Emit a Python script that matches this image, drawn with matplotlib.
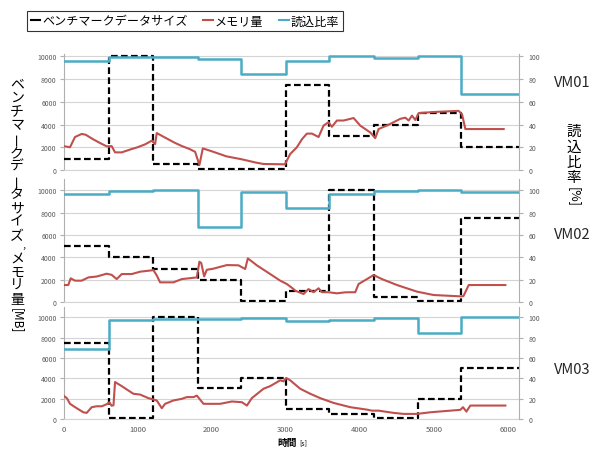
import matplotlib
matplotlib.use('Agg')
import matplotlib.pyplot as plt
from matplotlib.lines import Line2D

plt.rcParams['font.family'] = ['Noto Sans CJK JP', 'DejaVu Sans']

# ---------------- data ----------------
step_times = [0, 620, 1210, 1810, 2400, 3000, 3590, 4190, 4780, 5370]
end_time = 6150

bench1 = [1000, 10000, 500, 100, 100, 7500, 3000, 4000, 5000, 2000]
ratio1 = [96, 99, 99, 97.5, 84, 96, 100, 98.5, 100, 67]
bench2 = [5000, 4000, 3000, 2000, 100, 1000, 10000, 500, 100, 7500]
ratio2 = [97, 99, 100, 67, 98, 84, 96.5, 99, 100, 98]
bench3 = [7500, 100, 10000, 3000, 4000, 1000, 500, 100, 2000, 5000]
ratio3 = [68.5, 97.5, 98, 98.5, 99.5, 96, 97, 99, 84, 100]

mem_t1 = [20, 88, 155, 245, 300, 400, 500, 583, 650, 696, 786, 900, 1000, 1100, 1192, 1237, 1259, 1300,
          1400, 1500, 1600, 1700, 1777, 1835, 1881, 2000, 2200, 2400, 2600, 2700, 2990, 3060, 3151, 3219,
          3286, 3354, 3444, 3511, 3578, 3624, 3691, 3781, 3917, 4007, 4142, 4209, 4254, 4412, 4547, 4615,
          4660, 4705, 4750, 4795, 5000, 5335, 5381, 5426, 5943]
mem_v1 = [2080, 2000, 2900, 3170, 3100, 2700, 2350, 2080, 2100, 1550, 1550, 1800, 2000, 2250, 2580, 2280,
          3250, 3100, 2750, 2400, 2100, 1850, 1600, 440, 1900, 1650, 1200, 950, 650, 530, 500, 1400, 2000,
          2700, 3200, 3200, 2900, 3900, 4200, 3800, 4350, 4350, 4570, 3900, 3300, 2800, 3600, 4050, 4500,
          4600, 4350, 4780, 4400, 5000, 5100, 5200, 4900, 3600, 3600]

mem_t2 = [20, 65, 97, 155, 245, 336, 448, 583, 650, 718, 786, 921, 1034, 1214, 1259, 1304, 1484, 1597,
          1800, 1835, 1860, 1899, 1935, 2024, 2205, 2362, 2453, 2489, 2610, 2791, 2926, 3016, 3106, 3128,
          3241, 3308, 3376, 3444, 3489, 3578, 3691, 3804, 3939, 3984, 4097, 4187, 4300, 4503, 4773, 4997,
          5358, 5400, 5471, 5966]
mem_v2 = [1540, 1540, 2140, 1930, 1930, 2220, 2300, 2550, 2450, 2070, 2520, 2520, 2730, 2870, 2400, 1780,
          1780, 2070, 2220, 3620, 3500, 2310, 2900, 3000, 3320, 3300, 2970, 3920, 3300, 2520, 1930, 1630,
          1180, 1040, 740, 1180, 900, 1250, 900, 900, 800, 890, 900, 1630, 2070, 2430, 2070, 1540, 950,
          650, 530, 550, 1540, 1540]

mem_t3 = [7, 45, 88, 178, 268, 313, 381, 448, 516, 583, 619, 650, 675, 696, 786, 943, 1034, 1146, 1259,
          1327, 1372, 1484, 1597, 1665, 1755, 1800, 1890, 2115, 2273, 2408, 2476, 2543, 2700, 2791, 2926,
          2971, 3007, 3061, 3196, 3331, 3466, 3646, 3872, 4097, 4165, 4254, 4457, 4592, 4773, 4953, 5223,
          5358, 5394, 5440, 5493, 5966]
mem_v3 = [2250, 2050, 1490, 1060, 660, 600, 1160, 1250, 1250, 1450, 1650, 1300, 1350, 3630, 3230, 2480,
          2400, 2050, 1820, 1060, 1490, 1820, 1980, 2150, 2150, 2300, 1490, 1490, 1720, 1650, 1320, 2050,
          2970, 3230, 3800, 3700, 4030, 3800, 2970, 2480, 2050, 1580, 1160, 920, 820, 820, 600, 500, 500,
          660, 820, 900, 1160, 730, 1320, 1320]

vm_names = ['VM01', 'VM02', 'VM03']
left_ticks = [0, 2000, 4000, 6000, 8000, 10000]
right_ticks = [0, 20, 40, 60, 80, 100]
x_ticks = [0, 1000, 2000, 3000, 4000, 5000, 6000]
legend_labels = ['ベンチマークデータサイズ', 'メモリ量', '読込比率']

# ---------------- style ----------------
C_BLUE = '#4bacc6'
C_RED = '#c0504d'
C_GRID = '#d4d4d4'
C_SPINE = '#b0b0b0'
C_TICKLBL = '#595959'

W, H = 592, 452
fig = plt.figure(figsize=(W / 100, H / 100), dpi=100)


def rect(l, t, r, b):
    return [l / W, 1 - b / H, (r - l) / W, (b - t) / H]


panels = [(55, 171, 10200), (180, 303.3, 11000), (308, 420, 11000)]
benches = [bench1, bench2, bench3]
ratios = [ratio1, ratio2, ratio3]
mems = [(mem_t1, mem_v1), (mem_t2, mem_v2), (mem_t3, mem_v3)]
vm_y = [83, 235, 370]

st = step_times + [end_time]
for i, (top, bot, ytop) in enumerate(panels):
    ax = fig.add_axes(rect(63.5, top, 519, bot))
    ax.set_xlim(0, end_time)
    ax.set_ylim(0, ytop)
    ax.set_yticks(left_ticks)
    ax.grid(axis='y', color=C_GRID, lw=0.8)
    ax.set_axisbelow(True)
    for s in ['top', 'right']:
        ax.spines[s].set_visible(False)
    ax.spines['left'].set_color(C_SPINE)
    ax.spines['bottom'].set_color(C_GRID)
    ax.spines['bottom'].set_linewidth(0.8)
    ax.tick_params(axis='y', length=3, color=C_SPINE, labelsize=5, labelcolor=C_TICKLBL, pad=2)
    ax.set_xticks(x_ticks)
    if i == 2:
        ax.tick_params(axis='x', length=0, labelsize=5.5, labelcolor=C_TICKLBL, pad=4)
    else:
        ax.tick_params(axis='x', length=0, labelbottom=False)

    b = benches[i]
    ax.step(st, b + [b[-1]], where='post', color='black', lw=1.6, ls=(0, (3, 1.5)), zorder=3)
    mt, mv = mems[i]
    ax.plot(mt, mv, color=C_RED, lw=1.5, zorder=4)

    ax2 = ax.twinx()
    ax2.set_ylim(0, ytop / 100)
    ax2.set_yticks(right_ticks)
    for s in ['top', 'left', 'bottom']:
        ax2.spines[s].set_visible(False)
    ax2.spines['right'].set_color(C_SPINE)
    ax2.tick_params(axis='y', length=3, color=C_SPINE, labelsize=5, labelcolor=C_TICKLBL, pad=4)
    r = ratios[i]
    ax2.step(st, r + [r[-1]], where='post', color=C_BLUE, lw=1.8, zorder=5)

    fig.text(572 / W, 1 - vm_y[i] / H, vm_names[i], fontsize=10.5, ha='center', va='center',
             color='#262626')

# x label
fig.text(297 / W, 1 - 443 / H, '時間', fontsize=7, fontweight='bold', ha='right', va='center')
fig.text(299 / W, 1 - 443.5 / H, '[s]', fontsize=5, ha='left', va='center')

# left vertical label
left_chars = list('ベンチマークデータサイズ、メモリ量')
pitch = 13.8
y = 84
for ch in left_chars:
    if ch == 'ー':
        fig.text(17 / W, 1 - y / H, ch, fontsize=10, rotation=90, ha='center', va='center')
        y += pitch
    elif ch == '、':
        fig.text(24 / W, 1 - (y - 5) / H, ',', fontsize=8, ha='center', va='center')
        y += 9
    else:
        fig.text(17 / W, 1 - y / H, ch, fontsize=10, ha='center', va='center')
        y += pitch
fig.text(17 / W, 1 - (y + 7) / H, '[MB]', fontsize=8.5, rotation=-90, ha='center', va='center')

# right vertical label
right_chars = list('読込比率')
for k, ch in enumerate(right_chars):
    yy = 132 + k * 15.5
    fig.text(574 / W, 1 - yy / H, ch, fontsize=10.5, ha='center', va='center')
fig.text(574 / W, 1 - 197 / H, '[%]', fontsize=9, rotation=-90, ha='center', va='center')

# legend
handles = [Line2D([], [], color='black', lw=1.5),
           Line2D([], [], color=C_RED, lw=1.5),
           Line2D([], [], color=C_BLUE, lw=1.5)]
leg = fig.legend(handles, legend_labels, loc='upper left', bbox_to_anchor=(27 / W, 1 - 12 / H),
                 ncol=3, frameon=True, fancybox=False, edgecolor='black', fontsize=8.7,
                 handlelength=0.8, handletextpad=0.15, columnspacing=1.3, borderpad=0.3,
                 borderaxespad=0)
leg.get_frame().set_linewidth(0.8)

fig.savefig('out.png', dpi=100)
